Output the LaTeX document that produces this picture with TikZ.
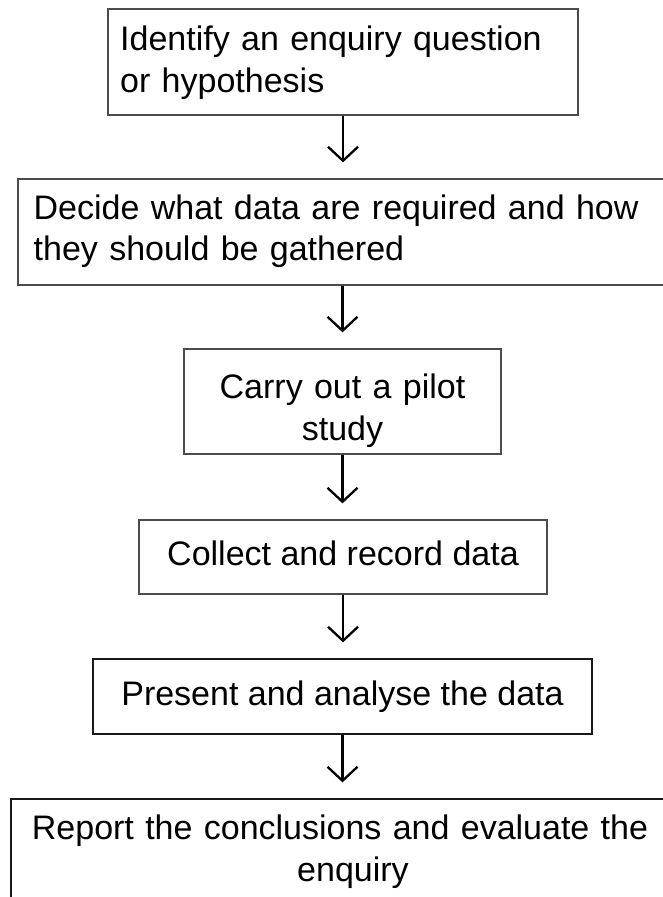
\documentclass[tikz,border=0pt]{standalone}
\usepackage{fontspec}
\setmainfont{Liberation Sans}
\usetikzlibrary{arrows.meta}

\begin{document}
\begin{tikzpicture}[x=1pt,y=-1pt,
  boxframe/.style={draw=black!70, line width=1.3pt, inner sep=0pt},
  darkframe/.style={boxframe, draw=black!90},
  caption/.style={inner sep=0pt, font=\fontsize{34}{42}\selectfont},
  flow/.style={line width=2.3pt, shorten >=16pt,
    -{Straight Barb[length=14pt,width=30pt,line width=2.3pt]}}
]
\useasboundingbox (0,0) rectangle (663,897);
\clip (0,0) rectangle (663,897);

% process boxes
\node[boxframe, minimum width=470pt, minimum height=106pt] (b1) at (343,62) {};
\node[boxframe, minimum width=682pt, minimum height=106pt] (b2) at (359,232) {};
\node[boxframe, minimum width=317pt, minimum height=105pt] (b3) at (342.5,401.5) {};
\node[boxframe, minimum width=408pt, minimum height=74pt] (b4) at (343,557) {};
\node[darkframe, minimum width=499pt, minimum height=75pt] (b5) at (342.5,696.5) {};
\node[darkframe, minimum width=689pt, minimum height=151pt] (b6) at (355.5,874.5) {};

% box texts
\node[caption, anchor=base west, text width=460pt, align=left] (t1) at (120,50)
  {Identify an enquiry question\\or hypothesis};
\node[caption, anchor=base west, text width=620pt, align=left,
  font=\fontsize{34}{41}\selectfont] (t2) at (33.5,219)
  {Decide what data are required and how\\they should be gathered};
\node[caption, anchor=base, text width=317pt, align=center] (t3) at (342.5,398)
  {Carry out a pilot\\study};
\node[caption, anchor=base] (t4) at (343,565) {Collect and record data};
\node[caption, anchor=base] (t5) at (342.5,705) {Present and analyse the data};
\node[caption, anchor=base, text width=640pt, align=center] (t6) at (340,839)
  {Report the conclusions and evaluate the\\\hspace*{26pt}enquiry};

% connectors
\draw[flow] (b1.south) -- (b1.south |- b2.north);
\draw[flow] (b2.south -| b3.north) -- (b3.north);
\draw[flow] (b3.south) -- (b3.south |- b4.north);
\draw[flow] (b4.south) -- (b4.south |- b5.north);
\draw[flow] (b5.south) -- (b5.south |- b6.north);
\end{tikzpicture}
\end{document}
